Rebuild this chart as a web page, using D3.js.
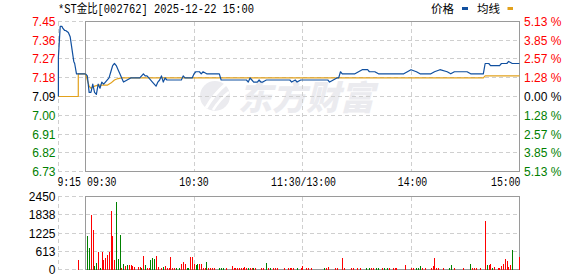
<!DOCTYPE html>
<html>
<head>
<meta charset="utf-8">
<script src="https://cdn.jsdelivr.net/npm/d3@7/dist/d3.min.js"></script>
<style>
  body { margin: 0; background: #fff; }
  svg { display: block; }
</style>
</head>
<body>
<svg id="chart" width="578" height="276"></svg>
<script>
const title = "*ST金比[002762] 2025-12-22 15:00";
const preClose = 7.09;

// axis labels
const pctLevels = [5.13, 3.85, 2.57, 1.28, 0, -1.28, -2.57, -3.85, -5.13];
const priceLabels = ["7.45", "7.36", "7.27", "7.18", "7.09", "7.00", "6.91", "6.82", "6.73"];
const pctLabels = ["5.13", "3.85", "2.57", "1.28", "0.00", "1.28", "2.57", "3.85", "5.13"];
const volTicks = [2450, 1838, 1225, 613, 0];
const timeTicks = [-15, 0, 60, 120, 180, 240];   // minutes from 09:30
const timeLabels = ["9:15", "09:30", "10:30", "11:30/13:00", "14:00", "15:00"];

// pre-market call auction (minutes from 09:30)
const preMin   = [-15, -15, -14, -13, -12.5, -11.5, -11, -9.5, -8.5, -6.5, -6, -5, 0];
const prePrice = [7.09, 7.28, 7.43, 7.43, 7.42, 7.41, 7.41, 7.40, 7.38, 7.26, 7.25, 7.20, 7.20];
const preAvgMin = [-15, -4, -4, 0];
const preAvg    = [7.09, 7.09, 7.20, 7.20];

// main session price line
const priceMin = [0, 1, 2, 3, 4, 5, 6, 7, 8, 9, 10, 11, 13, 14, 15, 16, 17, 18, 19, 20, 21, 23, 25, 30,
  31, 32, 33, 34, 35, 37, 38, 39, 40, 41, 42, 43, 44, 45, 53, 54, 55, 59, 60, 61, 63, 64, 65, 67, 69,
  74, 75, 89, 90, 91, 92, 93, 95, 96, 97, 98, 100, 113, 114, 116, 117, 119, 134, 135, 137, 139, 140,
  141, 142, 149, 151, 153, 156, 157, 160, 162, 164, 176, 178, 180, 183, 185, 191, 193, 196, 200, 202,
  204, 211, 213, 220, 221, 223, 224, 229, 230, 233, 234, 236, 240];
const price = [7.20, 7.19, 7.11, 7.11, 7.15, 7.11, 7.10, 7.15, 7.13, 7.16, 7.15, 7.16, 7.18, 7.21, 7.24,
  7.25, 7.24, 7.22, 7.20, 7.18, 7.16, 7.17, 7.18, 7.18,
  7.19, 7.20, 7.19, 7.19, 7.18, 7.16, 7.15, 7.14, 7.16, 7.17, 7.19, 7.16, 7.18, 7.17, 7.17, 7.19, 7.18,
  7.18, 7.20, 7.21, 7.21, 7.20, 7.21, 7.20, 7.20,
  7.20, 7.17, 7.17, 7.16, 7.18, 7.17, 7.16, 7.16, 7.17, 7.16, 7.16, 7.17, 7.17, 7.16, 7.17, 7.16, 7.17,
  7.17, 7.16, 7.17, 7.18, 7.18,
  7.21, 7.20, 7.20, 7.21, 7.22, 7.22, 7.21, 7.21, 7.20, 7.20, 7.20, 7.21, 7.22, 7.21, 7.20, 7.20, 7.21,
  7.22, 7.21, 7.20,
  7.21, 7.21, 7.20, 7.20, 7.25, 7.25, 7.24, 7.24, 7.25, 7.25, 7.26, 7.25, 7.25];

// main session average line
const avgMin   = [0, 1, 2, 3, 5, 7, 12, 14, 16, 18, 20, 140, 220, 221, 240];
const avgPrice = [7.20, 7.17, 7.14, 7.13, 7.14, 7.145, 7.145, 7.155, 7.17, 7.177, 7.18, 7.18, 7.18, 7.19, 7.19];

// volume bars (minute, amount, 1 = up/red, 0 = down/green)
const volMin = [-4, 1, 2, 3, 4, 5, 6, 7, 8, 9, 10, 11, 12, 13, 14, 15, 16, 17, 18, 19, 20, 21, 22, 23, 24,
  25, 26, 27, 29, 30, 31, 32, 33, 34, 35, 36, 37, 38, 39, 40, 42, 43, 44, 45, 46, 47, 48, 49, 50, 52, 53,
  54, 55, 56, 57, 58, 59, 60, 61, 62, 63, 64, 65, 66, 67, 68, 69, 70, 71, 74, 75, 76, 78, 81, 82, 83, 84,
  85, 86, 87, 88, 89, 90, 91, 92, 93, 94, 97, 98, 100, 101, 102, 104, 105, 106, 110, 112, 113, 114, 115,
  117, 119, 120, 122, 123, 125, 132, 133, 134, 138, 139, 142, 143, 147, 148, 150, 152, 155, 157, 158,
  159, 161, 162, 164, 165, 167, 168, 170, 171, 172, 177, 180, 181, 183, 184, 185, 186, 188, 191, 192,
  193, 194, 195, 198, 201, 202, 204, 209, 213, 214, 215, 216, 218, 221, 222, 223, 224, 225, 226, 228,
  229, 230, 231, 232, 233, 234, 235, 236, 240];
const volAmt = [312, 1136, 735, 1838, 1337, 111, 223, 600, 40, 580, 334, 390, 500, 600, 1972, 1136, 334,
  2272, 356, 1158, 40, 190, 111, 145, 167,
  145, 111, 78, 100, 78, 40, 468, 156, 40, 45, 334, 390, 368, 468, 90, 45, 90, 111, 40, 55, 423, 45, 40,
  40, 60, 200,
  267, 200, 40, 40, 423, 423, 170, 160, 200, 190, 200, 40, 45, 267, 40, 40, 45, 60, 60, 40, 40, 40, 134,
  40, 40, 40,
  40, 40, 40, 100, 40, 55, 55, 60, 60, 45, 45, 45, 234, 40, 40, 40, 45, 60, 40, 40, 40, 40, 40,
  40, 40, 134, 40, 40, 40, 50, 50, 100, 40, 40, 401, 40, 50, 40, 40, 40, 40, 40, 40,
  40, 40, 40, 40, 40, 50, 40, 40, 40, 40, 167, 40, 40, 40, 40, 134, 40, 40, 40, 134,
  401, 40, 40, 40, 60, 167, 40, 40, 200, 45, 40, 40, 40, 1637, 156, 167, 190, 40, 100, 40,
  40, 111, 190, 368, 290, 90, 167, 668, 434];
const volUp = [1, 0, 0, 1, 1, 0, 0, 1, 0, 1, 1, 1, 1, 1, 1, 1, 1, 0, 0, 0, 1, 0, 1, 0, 1,
  1, 1, 1, 1, 1, 0, 1, 0, 1, 1, 0, 0, 0, 1, 1, 1, 0, 1, 1, 1, 1, 1, 1, 0, 0, 1,
  1, 1, 0, 0, 1, 1, 1, 0, 0, 1, 1, 1, 1, 0, 1, 1, 1, 1, 0, 0, 0, 1, 1, 1, 1, 1,
  1, 1, 1, 1, 1, 0, 1, 1, 0, 1, 1, 1, 0, 1, 0, 1, 1, 1, 1, 1, 1, 1, 1,
  0, 1, 1, 1, 1, 1, 0, 1, 1, 1, 1, 1, 1, 1, 1, 1, 1, 0, 0, 1,
  1, 0, 0, 1, 0, 0, 1, 1, 1, 1, 1, 1, 1, 0, 0, 0, 1, 1, 1, 1,
  1, 1, 1, 1, 0, 0, 1, 1, 0, 1, 1, 1, 1, 1, 0, 1, 1, 0, 1, 1,
  1, 1, 1, 1, 1, 1, 1, 0, 1];

const RED = "#ff0000", GREEN = "#008000", BLUE = "#1150a0", ORANGE = "#e2a11c";
const GRID = "#cfcfcf", FRAME = "#9a9a9a";

const svg = d3.select("#chart");

const x = d3.scaleLinear().domain([-15, 240]).range([58.4, 519.5]);
const yPct = d3.scaleLinear().domain([-5.13, 5.13]).range([171.5, 21.5]);
const yP = p => yPct((p / preClose - 1) * 100);
const yV = d3.scaleLinear().domain([0, 2450]).range([269.5, 196.5]);

// watermark
const wm = svg.append("g").attr("fill", "#ebebef");
wm.append("circle").attr("cx", 215).attr("cy", 96).attr("r", 15);
wm.append("path").attr("d", "M206 108 Q214 94 226 84").attr("stroke", "#fff").attr("stroke-width", 3).attr("fill", "none");
wm.append("path").attr("d", "M213 110 Q220 99 229 92").attr("stroke", "#fff").attr("stroke-width", 2.5).attr("fill", "none");
wm.append("text").attr("x", 238).attr("y", 110)
  .attr("font-family", "'Noto Sans CJK SC'").attr("font-weight", 900).attr("font-size", 34)
  .attr("font-style", "italic")
  .text("东方财富");

// grids
function panelGrid(levels, yFn, top, bottom) {
  svg.append("g").selectAll("line.h").data(levels).join("line")
    .attr("x1", x(-15)).attr("x2", x(240))
    .attr("y1", d => yFn(d)).attr("y2", d => yFn(d))
    .attr("stroke", GRID).attr("stroke-dasharray", "4,3").attr("shape-rendering", "crispEdges");
  svg.append("g").selectAll("line.v").data([-15, 60, 120, 180]).join("line")
    .attr("x1", d => x(d)).attr("x2", d => x(d))
    .attr("y1", top).attr("y2", bottom)
    .attr("stroke", GRID).attr("stroke-dasharray", "4,3").attr("shape-rendering", "crispEdges");
  svg.append("rect").attr("x", x(0)).attr("y", top)
    .attr("width", x(240) - x(0)).attr("height", bottom - top)
    .attr("fill", "none").attr("stroke", FRAME).attr("shape-rendering", "crispEdges");
}
panelGrid(pctLevels, yPct, yPct(5.13), yPct(-5.13));
panelGrid(volTicks, yV, yV(2450), yV(0));

// price axis labels
const axisFont = "'Liberation Sans', Arial, sans-serif";
const labColor = (d) => d > 0 ? RED : d < 0 ? GREEN : "#000";
svg.append("g").selectAll("text").data(pctLevels).join("text")
  .attr("x", 55.5).attr("y", d => yPct(d) + 4.5)
  .attr("text-anchor", "end").attr("font-family", axisFont).attr("font-size", 12)
  .attr("fill", labColor).text((d, i) => priceLabels[i]);
svg.append("g").selectAll("text").data(pctLevels).join("text")
  .attr("x", 524).attr("y", d => yPct(d) + 4.5)
  .attr("font-family", axisFont).attr("font-size", 12)
  .attr("fill", labColor).text((d, i) => pctLabels[i] + " %");

// volume axis labels
svg.append("g").selectAll("text").data(volTicks).join("text")
  .attr("x", 55.5).attr("y", d => yV(d) + 4.5)
  .attr("text-anchor", "end").attr("font-family", axisFont).attr("font-size", 12)
  .attr("fill", "#000").text(d => d);

// time labels
const monoFont = "'Liberation Mono', 'Noto Sans CJK SC', monospace";
const anchors = ["start", "start", "middle", "middle", "middle", "end"];
const shift = [-1, 1.5, 0, 1, 1.5, 1];
svg.append("g").selectAll("text").data(timeTicks).join("text")
  .attr("x", (d, i) => x(d) + shift[i]).attr("y", 186)
  .attr("text-anchor", (d, i) => anchors[i])
  .attr("font-family", monoFont).attr("font-size", 12)
  .attr("textLength", (d, i) => timeLabels[i].length * 5.9).attr("lengthAdjust", "spacingAndGlyphs")
  .attr("fill", "#000").text((d, i) => timeLabels[i]);

// title and legend
svg.append("text").attr("x", 58).attr("y", 12.5)
  .attr("font-family", monoFont).attr("font-size", 12)
  .attr("textLength", 196).attr("lengthAdjust", "spacingAndGlyphs")
  .attr("fill", "#000").text(title);
const legendFont = "'Noto Sans CJK SC', sans-serif";
svg.append("text").attr("x", 431).attr("y", 12.5).attr("font-family", legendFont)
  .attr("font-size", 11.5).attr("fill", "#000").text("价格");
svg.append("rect").attr("x", 462).attr("y", 7).attr("width", 6).attr("height", 3).attr("fill", BLUE);
svg.append("text").attr("x", 477).attr("y", 12.5).attr("font-family", legendFont)
  .attr("font-size", 11.5).attr("fill", "#000").text("均线");
svg.append("rect").attr("x", 507.5).attr("y", 7).attr("width", 5.5).attr("height", 3).attr("fill", ORANGE);

// volume bars
const bars = volMin.map((m, i) => ({ m: m, v: volAmt[i], up: volUp[i] }));
svg.append("g").selectAll("rect").data(bars).join("rect")
  .attr("x", d => Math.floor(x(d.m) + 0.3)).attr("width", 1)
  .attr("y", d => yV(d.v)).attr("height", d => yV(0) - yV(d.v))
  .attr("fill", d => d.up ? RED : GREEN).attr("shape-rendering", "crispEdges");

// price and average lines
const line = d3.line().x(d => x(d[0])).y(d => yP(d[1]));
const zip = (a, b) => a.map((v, i) => [v, b[i]]);
const lines = svg.append("g").attr("fill", "none").attr("stroke-width", 1.2).attr("stroke-linejoin", "round");
lines.append("path").attr("d", line(zip(preAvgMin, preAvg))).attr("stroke", ORANGE);
lines.append("path").attr("d", line(zip(avgMin, avgPrice))).attr("stroke", ORANGE);
lines.append("path").attr("d", line(zip(preMin, prePrice))).attr("stroke", BLUE);
lines.append("path").attr("d", line(zip(priceMin, price))).attr("stroke", BLUE);
</script>
</body>
</html>
